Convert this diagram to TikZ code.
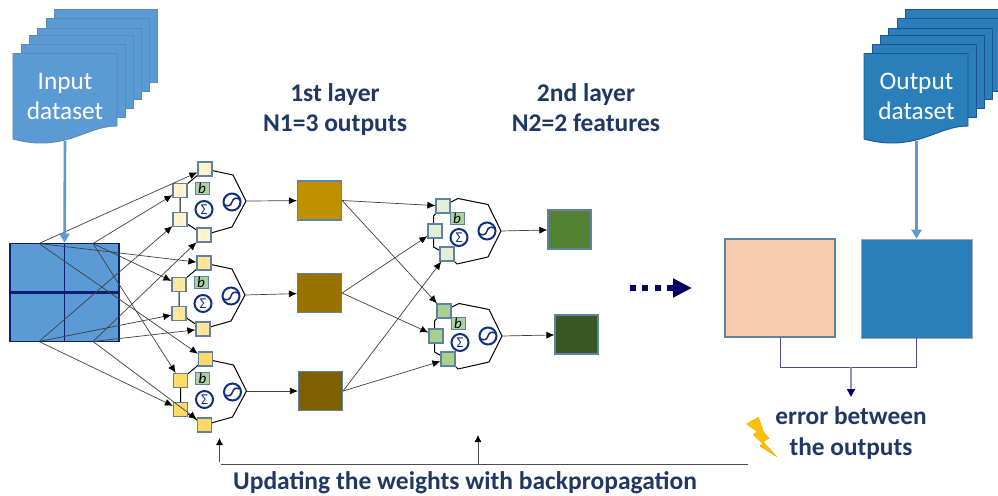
\documentclass[tikz,border=0pt]{standalone}
\usepackage{fontspec}
\setmainfont{Carlito}
\usetikzlibrary{arrows.meta,calc}
\definecolor{navytext}{HTML}{1F3864}
\definecolor{gridblue}{HTML}{5B9BD5}
\definecolor{gridline}{HTML}{0B1F75}
\definecolor{outblue}{HTML}{2A7FBB}
\definecolor{edgeblue}{HTML}{5F82A3}
\definecolor{circblue}{HTML}{12307A}
\definecolor{darknavy}{HTML}{000066}
\definecolor{bgreen}{HTML}{A9D3A0}
\definecolor{yellow1}{HTML}{FFF2CC}
\definecolor{yellow2}{HTML}{FFE699}
\definecolor{yellow3}{HTML}{FFD966}
\definecolor{green1}{HTML}{E2F0D9}
\definecolor{green2}{HTML}{A9D18E}
\definecolor{mid1}{HTML}{BF9000}
\definecolor{mid2}{HTML}{997300}
\definecolor{mid3}{HTML}{7F6000}
\definecolor{out1}{HTML}{548235}
\definecolor{out2}{HTML}{385723}
\definecolor{peach}{HTML}{F8CBAD}
\definecolor{bolt}{HTML}{FFC000}
\tikzset{
  sheetin/.style={draw=edgeblue!70!gridblue,line width=0.9pt,fill=gridblue},
  sheetout/.style={draw=circblue!55!outblue,line width=0.9pt,fill=outblue},
  doctext/.style={text=white,align=center,inner sep=0pt,minimum width=104pt,minimum height=86pt,font=\fontsize{25.3}{30}\selectfont},
  sq/.style={draw=edgeblue,line width=1.2pt,minimum size=14pt,inner sep=0pt,fill=#1},
  hull/.style={draw=black,line width=1pt,line join=round},
  bbox/.style={draw=edgeblue,line width=1pt,fill=bgreen,minimum width=14pt,minimum height=12pt,inner sep=0pt,font=\fontsize{15}{15}\selectfont\itshape},
  sumc/.style={draw=circblue,line width=2pt,circle,minimum size=17pt,inner sep=0pt,text=circblue,font=\fontsize{15}{15}\selectfont},
  sigc/.style={draw=circblue,line width=2pt,circle,minimum size=17pt,inner sep=0pt},
  sigcurve/.style={draw=circblue,line width=1.5pt},
  midbox/.style={draw=edgeblue,line width=1.2pt,minimum width=44pt,minimum height=39pt,inner sep=0pt,fill=#1},
  wire/.style={draw=black!75,line width=0.7pt,-{Latex[length=8pt,width=7pt,black]}},
  bigarrow/.style={draw=gridblue,line width=2.6pt,-{Triangle[length=9pt,width=10pt,fill=gridblue]}},
  layertext/.style={text=navytext,align=center,font=\fontsize{25.5}{30}\selectfont\bfseries},
  errwire/.style={draw=darknavy!70!white,line width=0.8pt},
  backwire/.style={draw=black!70,line width=0.8pt},
  upwire/.style={draw=black!70,line width=0.8pt,-{Latex[length=7pt,width=7pt,black]}},
}
\newcommand{\docstack}[2]{%
  \begin{scope}[shift={(#1,0)}]
    \path[#2] (41,9) rectangle (144,82);
    \path[#2] (33,18) rectangle (136,91);
    \path[#2] (24,28) rectangle (128,99);
    \path[#2] (16,35) rectangle (120,108);
    \path[#2] (8,44) rectangle (112,117);
    \path[#2] (0,53.5) -- (104,53.5) -- (104,126) .. controls (78,126) and (62,143) .. (28,143) .. controls (16,143) and (8,141) .. (0,139) -- cycle;
  \end{scope}}
\newcommand{\sigmoidmark}[1]{%
  \draw[sigcurve] ($(#1)+(-7,3)$) .. controls +(4,2) and +(-1,3) .. ($(#1)+(0,0)$) .. controls +(1,-3) and +(-4,-2) .. ($(#1)+(7,-3)$);}
% prefix, dx, dy, fill  (first-layer neuron)
\newcommand{\neuronfour}[4]{%
  \begin{scope}[shift={(#2,#3)}]
    \draw[hull] (205,169) -- (233,175) -- (246,201) -- (232,227) -- (204,235) -- (180,219) -- (180,190) -- cycle;
    \node[sq=#4] (#1t) at (205,169) {};
    \node[sq=#4] (#1u) at (180,190.5) {};
    \node[sq=#4] (#1l) at (180,219.5) {};
    \node[sq=#4] (#1b) at (204,235) {};
    \node[bbox] (#1bias) at (202,188.5) {b};
    \node[sumc] (#1sum) at (204,209.5) {Σ};
    \node[sigc] (#1sig) at (232,202) {};
    \sigmoidmark{#1sig}
    \coordinate (#1tip) at (246,201);
  \end{scope}}
% prefix, dx, dy, fill  (second-layer neuron)
\newcommand{\neuronthree}[4]{%
  \begin{scope}[shift={(#2,#3)}]
    \draw[hull] (443,206) -- (458,198.5) -- (488,204.5) -- (501,231) -- (488,257) -- (457,264) -- (447,254);
    \draw[hull] (443,206) -- (433.5,216) -- (433.5,247) -- (446,254);
    \node[sq=#4] (#1t) at (443,206) {};
    \node[sq=#4] (#1m) at (435,231) {};
    \node[sq=#4] (#1b) at (447,254) {};
    \node[bbox] (#1bias) at (457,218) {b};
    \node[sumc] (#1sum) at (459,237.5) {Σ};
    \node[sigc] (#1sig) at (487,231) {};
    \sigmoidmark{#1sig}
    \coordinate (#1tip) at (501,231);
  \end{scope}}
\begin{document}
\begin{tikzpicture}[x=1pt,y=-1pt]
\clip (0,0) rectangle (998,495);
\fill[white] (0,0) rectangle (998,495);
% document stacks
\docstack{13}{sheetin}
\docstack{864}{sheetout}
\node[doctext] (inputdoc) at (65,98) {\strut Input\\\strut dataset};
\node[doctext] (outputdoc) at (916.5,98) {\strut Output\\\strut dataset};
% input grid
\node[draw=gridline,line width=1.6pt,fill=gridblue,minimum width=109pt,minimum height=98pt,inner sep=0pt] (grid) at (64.5,292.5) {};
\draw[gridline,line width=1.1pt] (grid.north) -- (grid.south);
\draw[gridline,line width=2.2pt] (grid.west) -- (grid.east);
\coordinate (ga) at (39,243.5);
\coordinate (gb) at (93,243.5);
\coordinate (gc) at (39,341.5);
\coordinate (gd) at (93,341.5);
% neurons
\neuronfour{na}{0}{0}{yellow1}
\neuronfour{nb}{-1}{94}{yellow2}
\neuronfour{nc}{0.5}{190}{yellow3}
\neuronthree{nd}{0}{0}{green1}
\neuronthree{ne}{1}{105}{green2}
% first-layer outputs
\node[midbox=mid1] (boxa) at (319.5,200.5) {};
\node[midbox=mid2] (boxb) at (319.5,293) {};
\node[midbox=mid3] (boxc) at (320.5,391) {};
% second-layer outputs
\node[draw=edgeblue,line width=1.2pt,fill=out1,minimum width=43pt,minimum height=39pt,inner sep=0pt] (outa) at (569.5,229.5) {};
\node[draw=edgeblue,line width=1.2pt,fill=out2,minimum width=43pt,minimum height=39pt,inner sep=0pt] (outb) at (576.5,334.5) {};
% grid to first layer
\foreach \n in {na,nb,nc}{
  \draw[wire] (ga) -- (\n t);
  \draw[wire] (gb) -- (\n u);
  \draw[wire] (gc) -- (\n l);
  \draw[wire] (gd) -- (\n b);
}
% neurons to boxes
\draw[wire] (natip) -- (boxa);
\draw[wire] (nbtip) -- (boxb);
\draw[wire] (nctip) -- (boxc);
\draw[wire] (boxa.east) -- (ndt);
\draw[wire] (boxa.east) -- (net);
\draw[wire] (boxb.east) -- (ndm);
\draw[wire] (boxb.east) -- (nem);
\draw[wire] (boxc.east) -- (ndb);
\draw[wire] (boxc.east) -- (neb);
\draw[wire] (ndtip) -- (outa);
\draw[wire] (netip) -- (outb);
% dataset arrows
\draw[bigarrow] (inputdoc.south) -- (grid.north);
% result boxes
\node[draw=edgeblue,line width=1.2pt,fill=peach,minimum width=110pt,minimum height=98pt,inner sep=0pt] (predbox) at (780,288) {};
\node[draw=black!35,line width=0.6pt,fill=outblue,minimum width=111pt,minimum height=99pt,inner sep=0pt] (truebox) at (916.5,288.5) {};
\draw[bigarrow] (outputdoc.south) -- (truebox.north);
% dotted arrow
\coordinate (dota) at (630,288);
\coordinate (dotb) at (692,288);
\draw[darknavy,line width=6pt,dash pattern=on 6pt off 6.3pt,-{Triangle[length=19pt,width=18pt]}] (dota) -- (dotb);
% error
\node[layertext,inner sep=0pt,font=\fontsize{25.3}{31}\selectfont\bfseries] (errtext) at (851,434) {\strut error between\\\strut the outputs};
\coordinate (join) at (851,367);
\draw[errwire] (predbox.south) |- (join);
\draw[errwire] (truebox.south) |- (join);
\draw[draw=darknavy!40!gray!60!white,line width=1.4pt,-{Triangle[length=8pt,width=8pt,darknavy]}] (join) -- (851,397);
% lightning
\draw[fill=bolt,draw=bolt!70!brown,line width=0.5pt,line join=round] (746.7,424) -- (758.3,417.3) -- (764,432.7) -- (769,438.3) -- (763.3,441.7) -- (767.7,446.7) -- (776.7,456.7) -- (760,446) -- (762.7,443.3) -- (753.3,435) -- (757.3,431.7) -- cycle;
% backpropagation
\coordinate (backr) at (748,464);
\coordinate (backl) at (221,464);
\coordinate (upa) at (219.5,438);
\coordinate (upb) at (478,435);
\draw[backwire] (backr) -- (backl);
\draw[upwire] (219.5,462) -- (upa);
\draw[upwire] (478,464) -- (upb);
\node[layertext,inner sep=0pt,anchor=base] (backtext) at (465,489.5) {Updating the weights with backpropagation};
% layer titles
\node[layertext,inner sep=0pt] (layer1) at (335,110) {\strut 1st layer\\\strut N1=3 outputs};
\node[layertext,inner sep=0pt] (layer2) at (586,110) {\strut 2nd layer\\\strut N2=2 features};
\end{tikzpicture}
\end{document}
